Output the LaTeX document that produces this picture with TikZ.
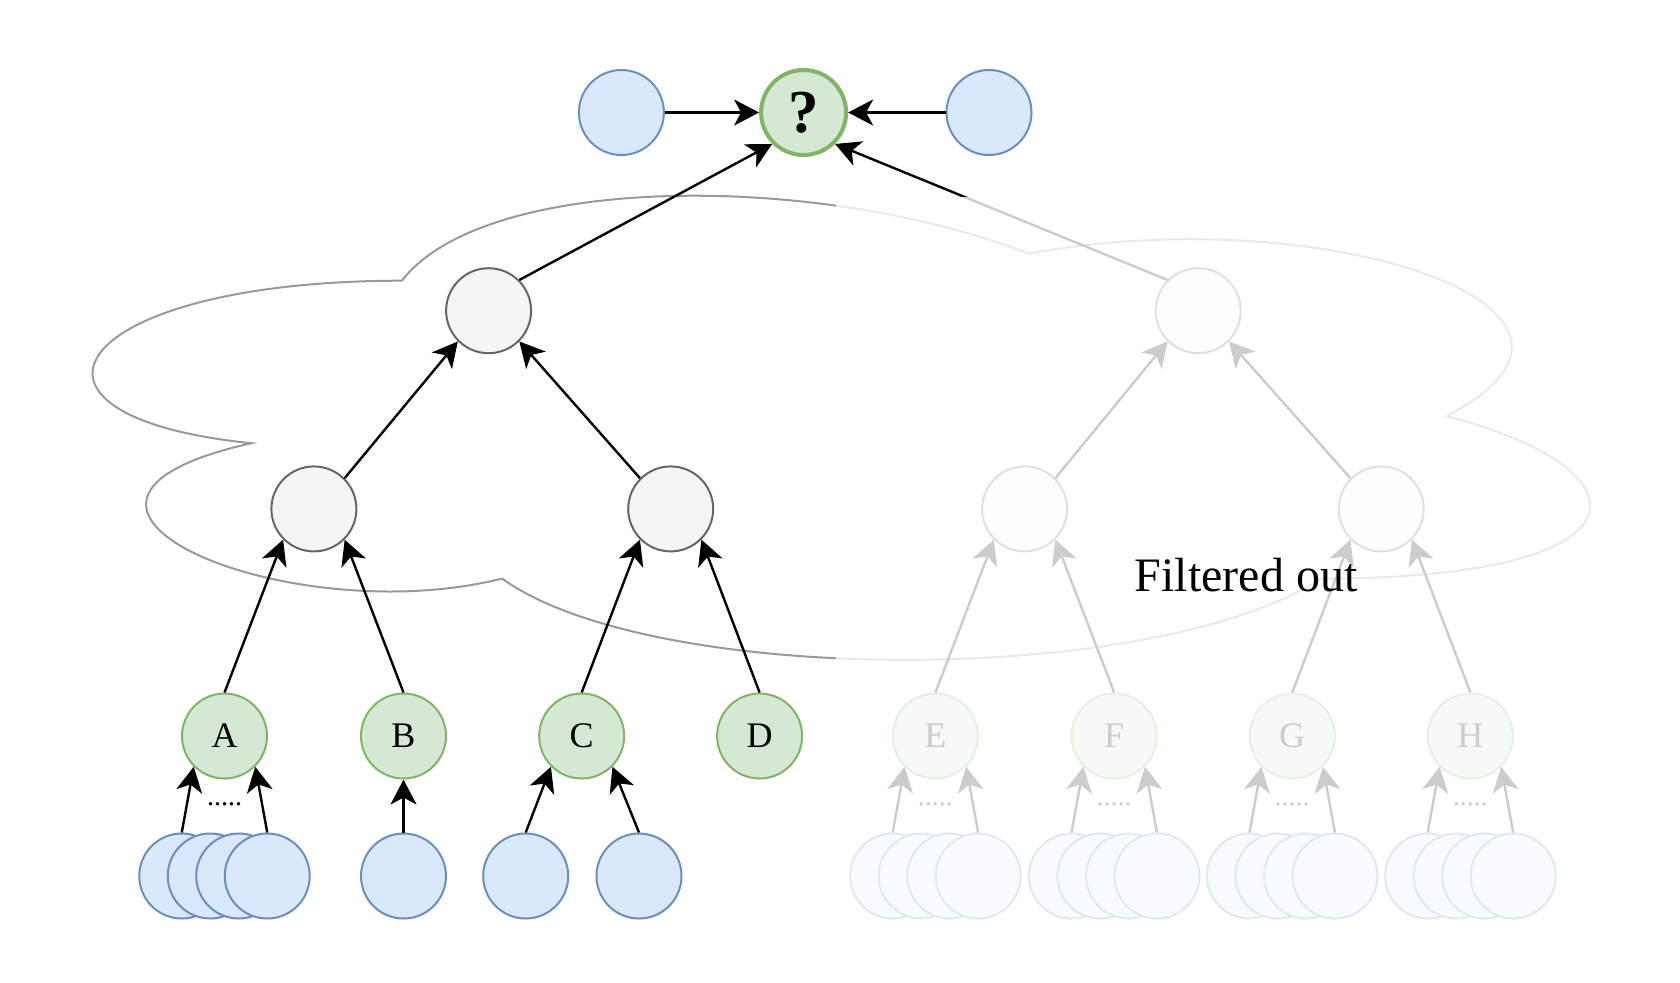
\documentclass[tikz,border=0pt]{standalone}
\usepackage{fontspec}
\setmainfont{Liberation Serif}
\usetikzlibrary{arrows.meta}
\definecolor{bluefill}{HTML}{DAE8FC}
\definecolor{bluedraw}{HTML}{6C8EBF}
\definecolor{greenfill}{HTML}{D5E8D4}
\definecolor{greendraw}{HTML}{82B366}
\definecolor{greyfill}{HTML}{F5F5F5}
\definecolor{greydraw}{HTML}{666666}
\definecolor{cloudline}{HTML}{999999}
\begin{document}
\begin{tikzpicture}[x=0.5pt,y=-0.5pt,
  base/.style={circle, minimum size=42.5pt, inner sep=0pt, line width=1pt},
  leaf/.style={base, fill=bluefill, draw=bluedraw},
  src/.style={base, fill=greenfill, draw=greendraw, font=\fontsize{18}{20}\selectfont},
  agg/.style={base, fill=greyfill, draw=greydraw},
  target/.style={base, fill=greenfill, draw=greendraw, line width=2pt, font=\bfseries\fontsize{30.5}{32}\selectfont},
  edge/.style={-{Stealth[length=12.5pt,width=13pt,inset=3.5pt]}, line width=1.2pt, black},
  dots/.style={font=\fontsize{14}{14}\selectfont, inner sep=0pt},
  cloudstroke/.style={draw=cloudline, line width=1pt}
]
\useasboundingbox (0,0) rectangle (1680,982);

% cloud
\draw[cloudstroke] (401.85,280.7)
  .. controls (67.57,280.7) and (-16,416.1) .. (251.42,443.18)
  .. controls (-16,502.76) and (284.85,632.74) .. (502.13,578.58)
  .. controls (652.56,686.9) and (1153.98,686.9) .. (1321.12,578.58)
  .. controls (1655.4,578.58) and (1655.4,470.26) .. (1446.48,416.1)
  .. controls (1655.4,307.78) and (1321.12,199.46) .. (1028.63,253.62)
  .. controls (819.7,172.38) and (485.42,172.38) .. (401.85,280.7) -- cycle;

% top row
\node[target] (q) at (803.6,112.5) {?};
\node[leaf] (tl) at (621.4,112.5) {};
\node[leaf] (tr) at (989,112.5) {};

% aggregation levels
\node[agg] (p1) at (488.6,310.7) {};
\node[agg] (p2) at (1198.2,310.7) {};
\node[agg] (m1) at (313.9,508.9) {};
\node[agg] (m2) at (670.7,508.9) {};
\node[agg] (m3) at (1024.6,508.9) {};
\node[agg] (m4) at (1381.2,508.9) {};

% sources
\node[src] (a) at (224.5,736) {A};
\node[src] (b) at (403.5,736) {B};
\node[src] (c) at (581.7,736) {C};
\node[src] (d) at (759.6,736) {D};
\node[src] (e) at (935.4,736) {E};
\node[src] (f) at (1114.2,736) {F};
\node[src] (g) at (1292.2,736) {G};
\node[src] (h) at (1470.4,736) {H};

% leaves
\foreach \n/\x in {a/224.5, e/935.4, f/1114.2, g/1292.2, h/1470.4} {
  \foreach \i/\d in {1/-42.75, 2/-14.25, 3/14.25, 4/42.75} {
    \node[leaf] (\n\i) at (\x+\d,876) {};
  }
  \node[dots] (\n dots) at (\x,804) {.....};
}
\node[leaf] (b1) at (403.5,876) {};
\node[leaf] (c1) at (525.7,876) {};
\node[leaf] (c2) at (639,876) {};

% edges
\draw[edge] (tl) -- (q);
\draw[edge] (tr) -- (q);
\draw[edge] (p1.45) -- (q.225);
\draw[edge] (p2.135) -- (q.315);
\draw[edge] (m1.45) -- (p1.225);
\draw[edge] (m2.135) -- (p1.315);
\draw[edge] (m3.45) -- (p2.225);
\draw[edge] (m4.135) -- (p2.315);
\draw[edge] (a.north) -- (m1.225);
\draw[edge] (b.north) -- (m1.315);
\draw[edge] (c.north) -- (m2.225);
\draw[edge] (d.north) -- (m2.315);
\draw[edge] (e.north) -- (m3.225);
\draw[edge] (f.north) -- (m3.315);
\draw[edge] (g.north) -- (m4.225);
\draw[edge] (h.north) -- (m4.315);
\foreach \n in {a,e,f,g,h} {
  \draw[edge] (\n1.north) -- (\n.225);
  \draw[edge] (\n4.north) -- (\n.315);
}
\draw[edge] (b1.north) -- (b.south);
\draw[edge] (c1.north) -- (c.225);
\draw[edge] (c2.north) -- (c.315);

% fading overlay for the filtered-out part
\fill[white, opacity=0.8] (836,197) rectangle (1680,982);

\node[font=\fontsize{24}{26}\selectfont, anchor=base, inner sep=0pt] (fo) at (1246,591.7) {Filtered out};
\end{tikzpicture}
\end{document}
